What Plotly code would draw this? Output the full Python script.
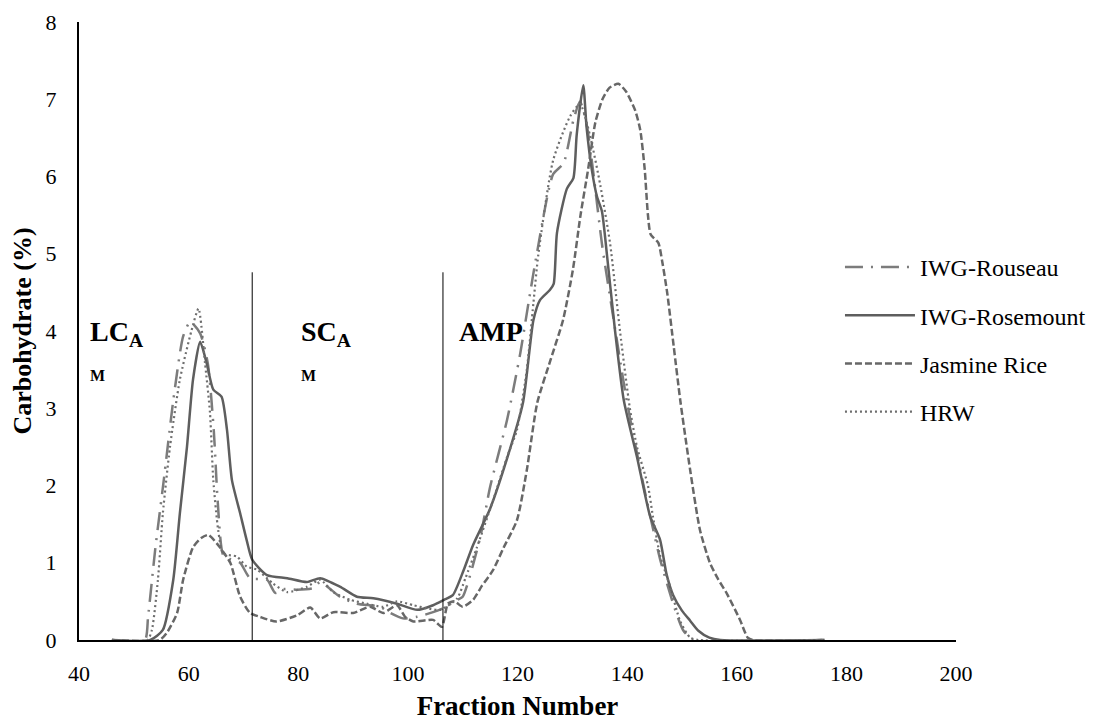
import plotly.graph_objects as go

# ---------------- data ----------------
rouseau_x = [46, 52, 52.6, 53.9, 55.4, 57.2, 59, 60.3, 62.1, 63.5, 64.6, 65.3, 66.3, 67.5, 69.4, 71.2,
             74.3, 75.8, 77.5, 79.8, 82.7, 84, 87.6, 90.7, 94.9, 96.8, 99.1, 101.7, 104.6, 106.4,
             109, 110, 113.2, 115, 118.1, 120.5, 122, 123.5, 126.5, 128.4, 130.2, 131.4, 132.6,
             133.8, 135.4, 137.2, 140, 143, 146, 148.4, 150.2, 152, 176]
rouseau_y = [0, 0, 0.3, 1.17, 2.03, 3.1, 3.93, 4.12, 3.97, 3.58, 2.7, 1.8, 1.1, 1.05, 1.0, 0.8,
             0.78, 0.61, 0.66, 0.65, 0.67, 0.75, 0.56, 0.47, 0.43, 0.35, 0.28, 0.3, 0.36, 0.41,
             0.52, 0.56, 1.33, 1.98, 2.85, 3.71, 4.36, 4.99, 6.03, 6.17, 6.73, 6.97, 6.68,
             6.07, 5.13, 4.3, 3.07, 2.0, 1.05, 0.47, 0.13, 0, 0]

rosemount_x = [46, 53, 55.3, 57.2, 58.4, 59.7, 60.8, 62.1, 63.3, 64.5, 66, 67, 67.9, 69.4, 70.6, 71.6,
               74.3, 78, 81.6, 84, 87.6, 90.7, 93.7, 98, 101.7, 104.6, 106.6, 108.2, 110.1, 111.9,
               115, 118.1, 121, 122.9, 124.1, 125.9, 126.6, 127.2, 129, 130.2, 130.8, 132, 132.6,
               133.6, 134.5, 135.4, 136.3, 137.8, 139.4, 141.8, 144.2, 146, 147.2, 148.4, 150,
               151.5, 153, 155, 157, 176]
rosemount_y = [0, 0, 0.13, 0.78, 1.64, 2.5, 3.37, 3.86, 3.58, 3.24, 3.15, 2.72, 2.07, 1.64, 1.29, 1.04,
               0.84, 0.8, 0.75, 0.8, 0.69, 0.56, 0.54, 0.47, 0.39, 0.45, 0.52, 0.58, 0.89, 1.23,
               1.7, 2.35, 3.07, 4.14, 4.4, 4.53, 4.61, 5.27, 5.84, 5.98, 6.54, 7.18, 6.64,
               6.07, 5.74, 5.55, 5.0, 4.0, 3.1, 2.37, 1.6, 1.3, 0.85, 0.58, 0.38,
               0.25, 0.12, 0.03, 0, 0]

jasmine_x = [46, 54.7, 56, 57.9, 59, 60.8, 62.3, 63.6, 65.7, 67.6, 69.4, 71.2, 73, 76, 79.8, 82.2,
             84, 86.4, 90, 93.1, 95.5, 98, 99.5, 101, 104.6, 106.2, 107.3, 108.5, 110, 111.9, 113.5,
             115.5, 117.5, 119.9, 121.7, 123.6, 126, 128.3, 130.1, 131.5, 132.9, 134.2, 135.5,
             136.8, 138.4, 139.8, 141.5, 142.4, 143.2, 143.8, 144.3, 145.7, 146.4, 147.3, 148.5,
             149.7, 151.5, 153.3, 155.1, 156.5, 158.2, 160.6, 162, 163, 176]
jasmine_y = [0, 0, 0.09, 0.35, 0.78, 1.2, 1.32, 1.36, 1.2, 1.0, 0.56, 0.35, 0.3, 0.24, 0.32, 0.42,
             0.28, 0.36, 0.35, 0.43, 0.35, 0.45, 0.3, 0.24, 0.26, 0.17, 0.47, 0.5, 0.43, 0.52, 0.7,
             0.9, 1.2, 1.55, 2.2, 3.07, 3.62, 4.14, 4.79, 5.5, 6.1, 6.7, 7.0,
             7.15, 7.2, 7.1, 6.85, 6.6, 6.1, 5.5, 5.25, 5.14, 4.9, 4.5, 3.8,
             3.1, 2.2, 1.42, 1.0, 0.8, 0.6, 0.26, 0.03, 0, 0]

hrw_x = [46, 52.5, 53.3, 54.4, 55.3, 56.6, 58.4, 60.5, 61.8, 63, 63.9, 64.5, 65.4, 66.3, 68.8, 70.6,
         72.5, 75.4, 78, 81.6, 84, 86.4, 89.5, 92.5, 95.5, 98, 101, 103.5, 105.9, 109, 110.5, 112.6,
         115.5, 118.1, 119.9, 121.7, 122.9, 123.8, 126.5, 129.6, 131.4, 133.2, 135.1, 136.9, 138.7,
         140.5, 141.8, 143.8, 144.7, 146, 147.8, 149.7, 151.5, 153, 176]
hrw_y = [0, 0, 0.13, 0.78, 1.64, 2.5, 3.37, 4.0, 4.29, 3.58, 2.94, 2.07, 1.42, 1.12, 1.08, 0.95,
         0.91, 0.73, 0.62, 0.69, 0.78, 0.62, 0.52, 0.47, 0.43, 0.5, 0.45, 0.41, 0.39, 0.54, 0.8, 1.2,
         1.8, 2.37, 2.72, 3.5, 4.36, 4.99, 6.21, 6.78, 6.94, 6.54, 5.89, 5.13, 4.0,
         3.0, 2.5, 2.0, 1.6, 1.1, 0.7, 0.24, 0.03, 0, 0]

series_names = ["IWG-Rouseau", "IWG-Rosemount", "Jasmine Rice", "HRW"]
x_ticks = [40, 60, 80, 100, 120, 140, 160, 180, 200]
y_ticks = [0, 1, 2, 3, 4, 5, 6, 7, 8]
divider_x = [71.6, 106.4]
divider_top = 4.76
region_labels = [("LC", 41.7), ("SC", 80.2)]
amp_label = ("AMP", 108.9)

# ---------------- figure ----------------
FONT = "Liberation Serif"
styles = [
    dict(color="#7c7c7c", width=2.5, dash="18px,8px,2px,8px"),
    dict(color="#5e5e5e", width=2.5, dash="solid"),
    dict(color="#676767", width=2.5, dash="7px,3px"),
    dict(color="#6e6e6e", width=2.2, dash="2px,3px"),
]
data = [(rouseau_x, rouseau_y), (rosemount_x, rosemount_y), (jasmine_x, jasmine_y), (hrw_x, hrw_y)]

fig = go.Figure()
for name, (xs, ys), st in zip(series_names, data, styles):
    fig.add_trace(go.Scatter(x=xs, y=ys, name=name, mode="lines",
                             line=dict(shape="spline", smoothing=0.6, **st),
                             legendgroup=name))

for dx in divider_x:
    fig.add_shape(type="line", xref="x", yref="y", x0=dx, x1=dx, y0=-0.13, y1=divider_top,
                  line=dict(color="black", width=1))

for txt, xv in region_labels:
    fig.add_annotation(x=xv, y=3.97, xref="x", yref="y", xanchor="left", yanchor="middle",
                       text=f"<b>{txt}<sub>A</sub></b>", showarrow=False,
                       font=dict(family=FONT, size=28, color="black"))
    fig.add_annotation(x=xv, y=3.43, xref="x", yref="y", xanchor="left", yanchor="middle",
                       text="<b>M</b>", showarrow=False,
                       font=dict(family=FONT, size=16, color="black"))
fig.add_annotation(x=amp_label[1], y=4.0, xref="x", yref="y", xanchor="left", yanchor="middle",
                   text=f"<b>{amp_label[0]}</b>", showarrow=False,
                   font=dict(family=FONT, size=28, color="black"))

fig.update_layout(
    width=1093, height=721,
    margin=dict(l=79, r=137, t=22, b=81, autoexpand=False),
    paper_bgcolor="white", plot_bgcolor="white",
    font=dict(family=FONT, size=22, color="black"),
    showlegend=True,
    legend=dict(xref="container", yref="container", x=0.7685, y=0.6602,
                xanchor="left", yanchor="top",
                font=dict(family=FONT, size=24, color="black"),
                itemwidth=70, tracegroupgap=14, bgcolor="rgba(0,0,0,0)"),
    xaxis=dict(range=[40, 200], tickvals=x_ticks, ticktext=[str(v) for v in x_ticks],
               showline=True, linecolor="black", linewidth=2, showgrid=False, zeroline=False,
               ticks="", ticklabelstandoff=13, automargin=False,
               tickfont=dict(family=FONT, size=22, color="black"),
               title=dict(text="<b>Fraction Number</b>", standoff=15,
                          font=dict(family=FONT, size=27, color="black"))),
    yaxis=dict(range=[0, 8], tickvals=y_ticks, ticktext=[str(v) for v in y_ticks],
               showline=True, linecolor="black", linewidth=2, showgrid=False, zeroline=False,
               ticks="", ticklabelstandoff=16, automargin=False,
               tickfont=dict(family=FONT, size=22, color="black"),
               title=dict(text="<b>Carbohydrate (%)</b>", standoff=6,
                          font=dict(family=FONT, size=26, color="black"))),
)

fig.write_html("out.html")
